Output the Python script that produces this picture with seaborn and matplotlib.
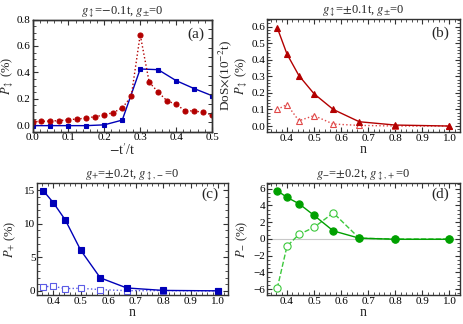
import numpy as np
import pandas as pd
import matplotlib
matplotlib.use("Agg")
import matplotlib.pyplot as plt
import matplotlib.ticker as mticker
import seaborn as sns

# ── data ────────────────────────────────────────────────────────────────────
# (a) polarization vs -t'/t  and  DoS
tp_red = [0.0, 0.025, 0.05, 0.075, 0.1, 0.125, 0.15, 0.175, 0.2, 0.225, 0.25,
          0.275, 0.3, 0.325, 0.35, 0.375, 0.4, 0.425, 0.45, 0.475, 0.5]
p_red = [0.026, 0.028, 0.031, 0.034, 0.041, 0.046, 0.054, 0.064, 0.077, 0.095, 0.13,
         0.217, 0.685, 0.325, 0.25, 0.183, 0.158, 0.108, 0.108, 0.096, 0.078]
tp_blue = [0.0, 0.05, 0.1, 0.15, 0.2, 0.25, 0.3, 0.35, 0.4, 0.45, 0.5]
dos_blue = [-0.004, -0.004, -0.004, -0.004, 0.002, 0.038, 0.425, 0.42, 0.337, 0.277, 0.223]

# filling n = 4/11 ... 4/4
n_vals = [0.364, 0.4, 0.444, 0.5, 0.571, 0.667, 0.8, 1.0]

# (b)
pb_filled = [0.594, 0.435, 0.305, 0.195, 0.1, 0.026, 0.006, 0.0]
pb_open = [0.1, 0.13, 0.032, 0.063, 0.012, 0.004, 0.0, 0.0]

# (c)
pc_filled = [14.9, 13.15, 10.55, 6.05, 1.95, 0.45, 0.08, 0.02]
pc_open = [0.65, 0.68, 0.35, 0.4, 0.2, 0.05, 0.05, 0.0]

# (d)
pd_filled = [5.75, 4.95, 4.2, 2.8, 0.95, 0.08, -0.05, -0.05]
pd_open = [-5.9, -0.88, 0.52, 1.38, 3.1, 0.08, -0.02, -0.02]

# ── style ───────────────────────────────────────────────────────────────────
sns.set_theme(style="ticks")
plt.rcParams["font.family"] = ["Liberation Serif", "DejaVu Serif"]
plt.rcParams["mathtext.fontset"] = "stix"
plt.rcParams["axes.edgecolor"] = "#333333"
plt.rcParams["axes.linewidth"] = 1.0
plt.rcParams["xtick.color"] = "#333333"
plt.rcParams["ytick.color"] = "#333333"
plt.rcParams["xtick.labelcolor"] = "black"
plt.rcParams["ytick.labelcolor"] = "black"

RED = "#b30000"
RED_L = "#e04848"
BLUE = "#0000b8"
BLUE_L = "#5c5ce6"
GREEN = "#00a000"
GREEN_L = "#3cc83c"


def style_axes(ax, xmaj, xmin, ymaj, ymin):
    ax.xaxis.set_major_locator(mticker.MultipleLocator(xmaj))
    ax.xaxis.set_minor_locator(mticker.MultipleLocator(xmin))
    ax.yaxis.set_major_locator(mticker.MultipleLocator(ymaj))
    ax.yaxis.set_minor_locator(mticker.MultipleLocator(ymin))
    ax.tick_params(which="both", direction="in", top=True, right=True, labelsize=8, pad=1.2)
    ax.tick_params(which="major", length=3.5, width=0.8)
    ax.tick_params(which="minor", length=2, width=0.6)


def line(ax, x, y, color, ls, marker, ms, fill=True, edge=None):
    sns.lineplot(x=x, y=y, ax=ax, color=color, linestyle=ls, linewidth=1.0,
                 marker=marker, markersize=ms,
                 markerfacecolor=color if fill else "white",
                 markeredgecolor=edge or color, markeredgewidth=0.8,
                 estimator=None, sort=False)


fig = plt.figure(figsize=(4.63, 3.24), dpi=100)
ax_a = fig.add_axes([0.0702, 0.5935, 0.3877, 0.3463])
ax_b = fig.add_axes([0.576, 0.5926, 0.4169, 0.3488])
ax_c = fig.add_axes([0.0799, 0.0895, 0.4119, 0.3466])
ax_d = fig.add_axes([0.576, 0.0895, 0.4169, 0.3466])

# (a)
line(ax_a, tp_blue, dos_blue, BLUE, "-", "s", 3.2)
line(ax_a, tp_red, p_red, RED, ":", "o", 3.6)
ax_a.set_xlim(0, 0.5)
ax_a.set_ylim(-0.05, 0.8)
style_axes(ax_a, 0.1, 0.02, 0.2, 0.05)
ax_a.tick_params(which="both", right=False)
ax_a.set_xlabel(r"$-$t$'$/t", fontsize=10, labelpad=0)
ax_a.set_ylabel(r"$P_{\updownarrow}$ (%)", fontsize=9)
ax_a.yaxis.set_label_coords(-0.092, 0.5)
ax_a.set_title(r"$g_{\updownarrow}$=$-$0.1t, $g_{\pm}$=0", fontsize=9, pad=3)
ax_a.text(0.96, 0.87, "(a)", transform=ax_a.transAxes, ha="right", va="center", fontsize=11)
tw = ax_a.twinx()
tw.set_ylim(0, 12)
tw.yaxis.set_major_locator(mticker.MultipleLocator(1))
tw.tick_params(axis="y", direction="in", length=3, width=0.7, labelright=False)
tw.set_ylabel(r"DoS$\times$(10$^{-2}$t)", fontsize=9.5)
tw.yaxis.set_label_coords(1.026, 0.5)

# (b)
line(ax_b, n_vals, pb_open, RED_L, ":", "^", 4.5, fill=False)
line(ax_b, n_vals, pb_filled, RED, "-", "^", 4.5)
ax_b.set_xlim(0.325, 1.038)
ax_b.set_ylim(-0.036, 0.647)
style_axes(ax_b, 0.1, 0.02, 0.1, 0.02)
ax_b.set_xlabel("n", fontsize=10, labelpad=0)
ax_b.set_ylabel(r"$P_{\updownarrow}$ (%)", fontsize=9)
ax_b.yaxis.set_label_coords(-0.085, 0.5)
ax_b.set_title(r"$g_{\updownarrow}$=$\pm$0.1t, $g_{\pm}$=0", fontsize=9, pad=3)
ax_b.text(0.945, 0.876, "(b)", transform=ax_b.transAxes, ha="right", va="center", fontsize=11)

# (c)
line(ax_c, n_vals, pc_open, BLUE_L, ":", "s", 5, fill=False)
line(ax_c, n_vals, pc_filled, BLUE, "-", "s", 5)
ax_c.set_xlim(0.341, 1.034)
ax_c.set_ylim(-0.6, 16.1)
style_axes(ax_c, 0.1, 0.02, 5, 1)
ax_c.set_xlabel("n", fontsize=10, labelpad=0)
ax_c.set_ylabel(r"$P_{+}$ (%)", fontsize=9)
ax_c.yaxis.set_label_coords(-0.098, 0.5)
ax_c.set_title(r"$g_{+}$=$\pm$0.2t, $g_{\updownarrow,-}$=0", fontsize=9, pad=3)
ax_c.text(0.95, 0.897, "(c)", transform=ax_c.transAxes, ha="right", va="center", fontsize=11)

# (d)
ax_d.axhline(0, color="#c8c8c8", linewidth=0.8, zorder=0)
line(ax_d, n_vals, pd_open, GREEN_L, "--", "o", 5.2, fill=False)
line(ax_d, n_vals, pd_filled, GREEN, "-", "o", 5.2)
ax_d.set_xlim(0.325, 1.038)
ax_d.set_ylim(-6.7, 6.7)
style_axes(ax_d, 0.1, 0.02, 2, 0.5)
ax_d.set_xlabel("n", fontsize=10, labelpad=0)
ax_d.set_ylabel(r"$P_{-}$ (%)", fontsize=9)
ax_d.yaxis.set_label_coords(-0.085, 0.5)
ax_d.set_title(r"$g_{-}$=$\pm$0.2t, $g_{\updownarrow,+}$=0", fontsize=9, pad=3)
ax_d.text(0.945, 0.897, "(d)", transform=ax_d.transAxes, ha="right", va="center", fontsize=11)

for ax in (ax_a, ax_b, ax_c, ax_d):
    ax.xaxis.set_major_formatter(mticker.FormatStrFormatter("%.1f"))
ax_a.yaxis.set_major_formatter(mticker.FormatStrFormatter("%.1f"))
ax_b.yaxis.set_major_formatter(mticker.FormatStrFormatter("%.1f"))
ax_c.yaxis.set_major_formatter(mticker.FormatStrFormatter("%d"))
ax_d.yaxis.set_major_formatter(mticker.FuncFormatter(lambda v, _: f"{v:.0f}".replace("-", "\u2212")))

fig.savefig("out.png", dpi=100)
